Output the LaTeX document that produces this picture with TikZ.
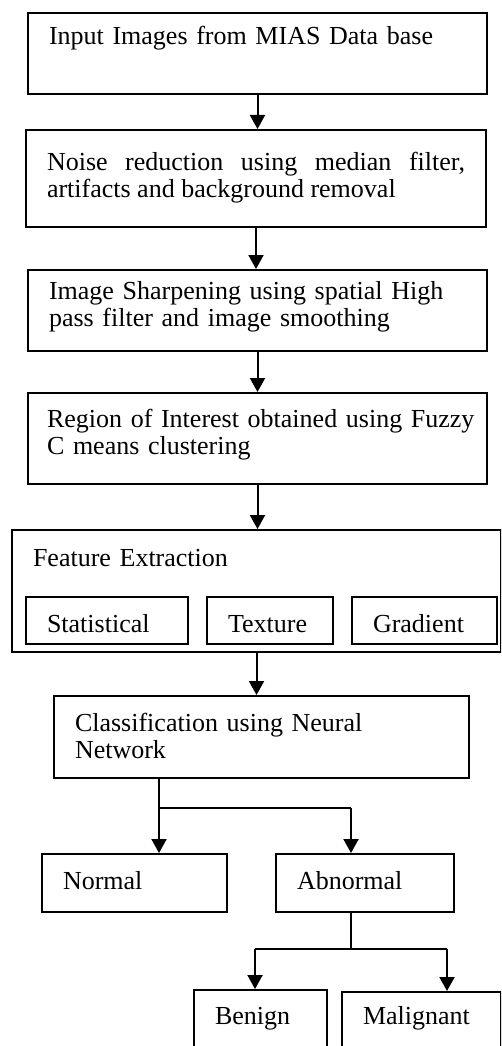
\documentclass[tikz,border=0pt]{standalone}
\usepackage{fontspec}
\setmainfont{Liberation Serif}
\usetikzlibrary{arrows.meta,calc}
\hyphenpenalty=10000
\exhyphenpenalty=10000

\tikzset{
  box/.style={draw, line width=2pt, anchor=north west, inner xsep=21pt, inner ysep=0pt,
    align=left, font=\fontsize{26}{27.5}\selectfont},
  arr/.style={line width=2pt, -{Triangle[length=14pt,width=15pt]}},
  lin/.style={line width=2pt}
}

\begin{document}
\begin{tikzpicture}[x=1pt,y=-1pt]
\clip (0,0) rectangle (501,1046);
\node[box, text width=417pt, text height=32pt, text depth=49pt] (inp) at (27,12) {Input Images from MIAS Data base};
\node[box, text width=418pt, text height=40pt, text depth=57pt, align=justify] (noise) at (25,129) {Noise reduction using median filter, artifacts and background removal};
\node[box, text width=417pt, text height=29pt, text depth=52pt] (sharp) at (27,269) {Image Sharpening using spatial High\\pass filter and image smoothing};
\node[box, inner xsep=19pt, text width=421pt, text height=34pt, text depth=57pt] (roi) at (27,392) {\mbox{Region of Interest obtained using Fuzzy}\\C means clustering};
\node[box, text width=447pt, text height=36pt, text depth=86pt] (feat) at (11,529) {Feature Extraction};
\node[box, text width=120pt, text height=35pt, text depth=12pt] (stat) at (25,596) {Statistical};
\node[box, text width=84pt, text height=35pt, text depth=12pt] (text) at (206,596) {Texture};
\node[box, text width=103pt, text height=35pt, text depth=12pt] (grad) at (351,596) {Gradient};
\node[box, text width=373pt, text height=35pt, text depth=47pt] (cls) at (53,695) {Classification using Neural\\Network};
\node[box, text width=143pt, text height=35pt, text depth=23pt] (nrm) at (41,853) {Normal};
\node[box, text width=136pt, text height=35pt, text depth=23pt] (abn) at (275,853) {Abnormal};
\node[box, text width=91pt, text height=34pt, text depth=40pt] (ben) at (193,989) {Benign};
\node[box, text width=117pt, text height=32pt, text depth=40pt] (mal) at (341,991) {Malignant};

\draw[arr] (inp.south) -- (inp.south |- noise.north);
\draw[arr] (noise.south) -- (noise.south |- sharp.north);
\draw[arr] (sharp.south) -- (sharp.south |- roi.north);
\draw[arr] (roi.south) -- (roi.south |- feat.north);
\draw[arr] (feat.south) -- (feat.south |- cls.north);

\coordinate (j1) at (159,808);
\coordinate (j2) at (351,808);
\draw[lin] (j1 |- cls.south) -- (j1) -- (j2);
\draw[arr] (j1) -- (j1 |- nrm.north);
\draw[arr] (j2) -- (j2 |- abn.north);
\coordinate (j3) at (255,949);
\coordinate (j4) at (447,949);
\draw[lin] (j2 |- abn.south) -- (j2 |- j3);
\draw[lin] (j3) -- (j4);
\draw[arr] (j3) -- (j3 |- ben.north);
\draw[arr] (j4) -- (j4 |- mal.north);
\end{tikzpicture}
\end{document}
